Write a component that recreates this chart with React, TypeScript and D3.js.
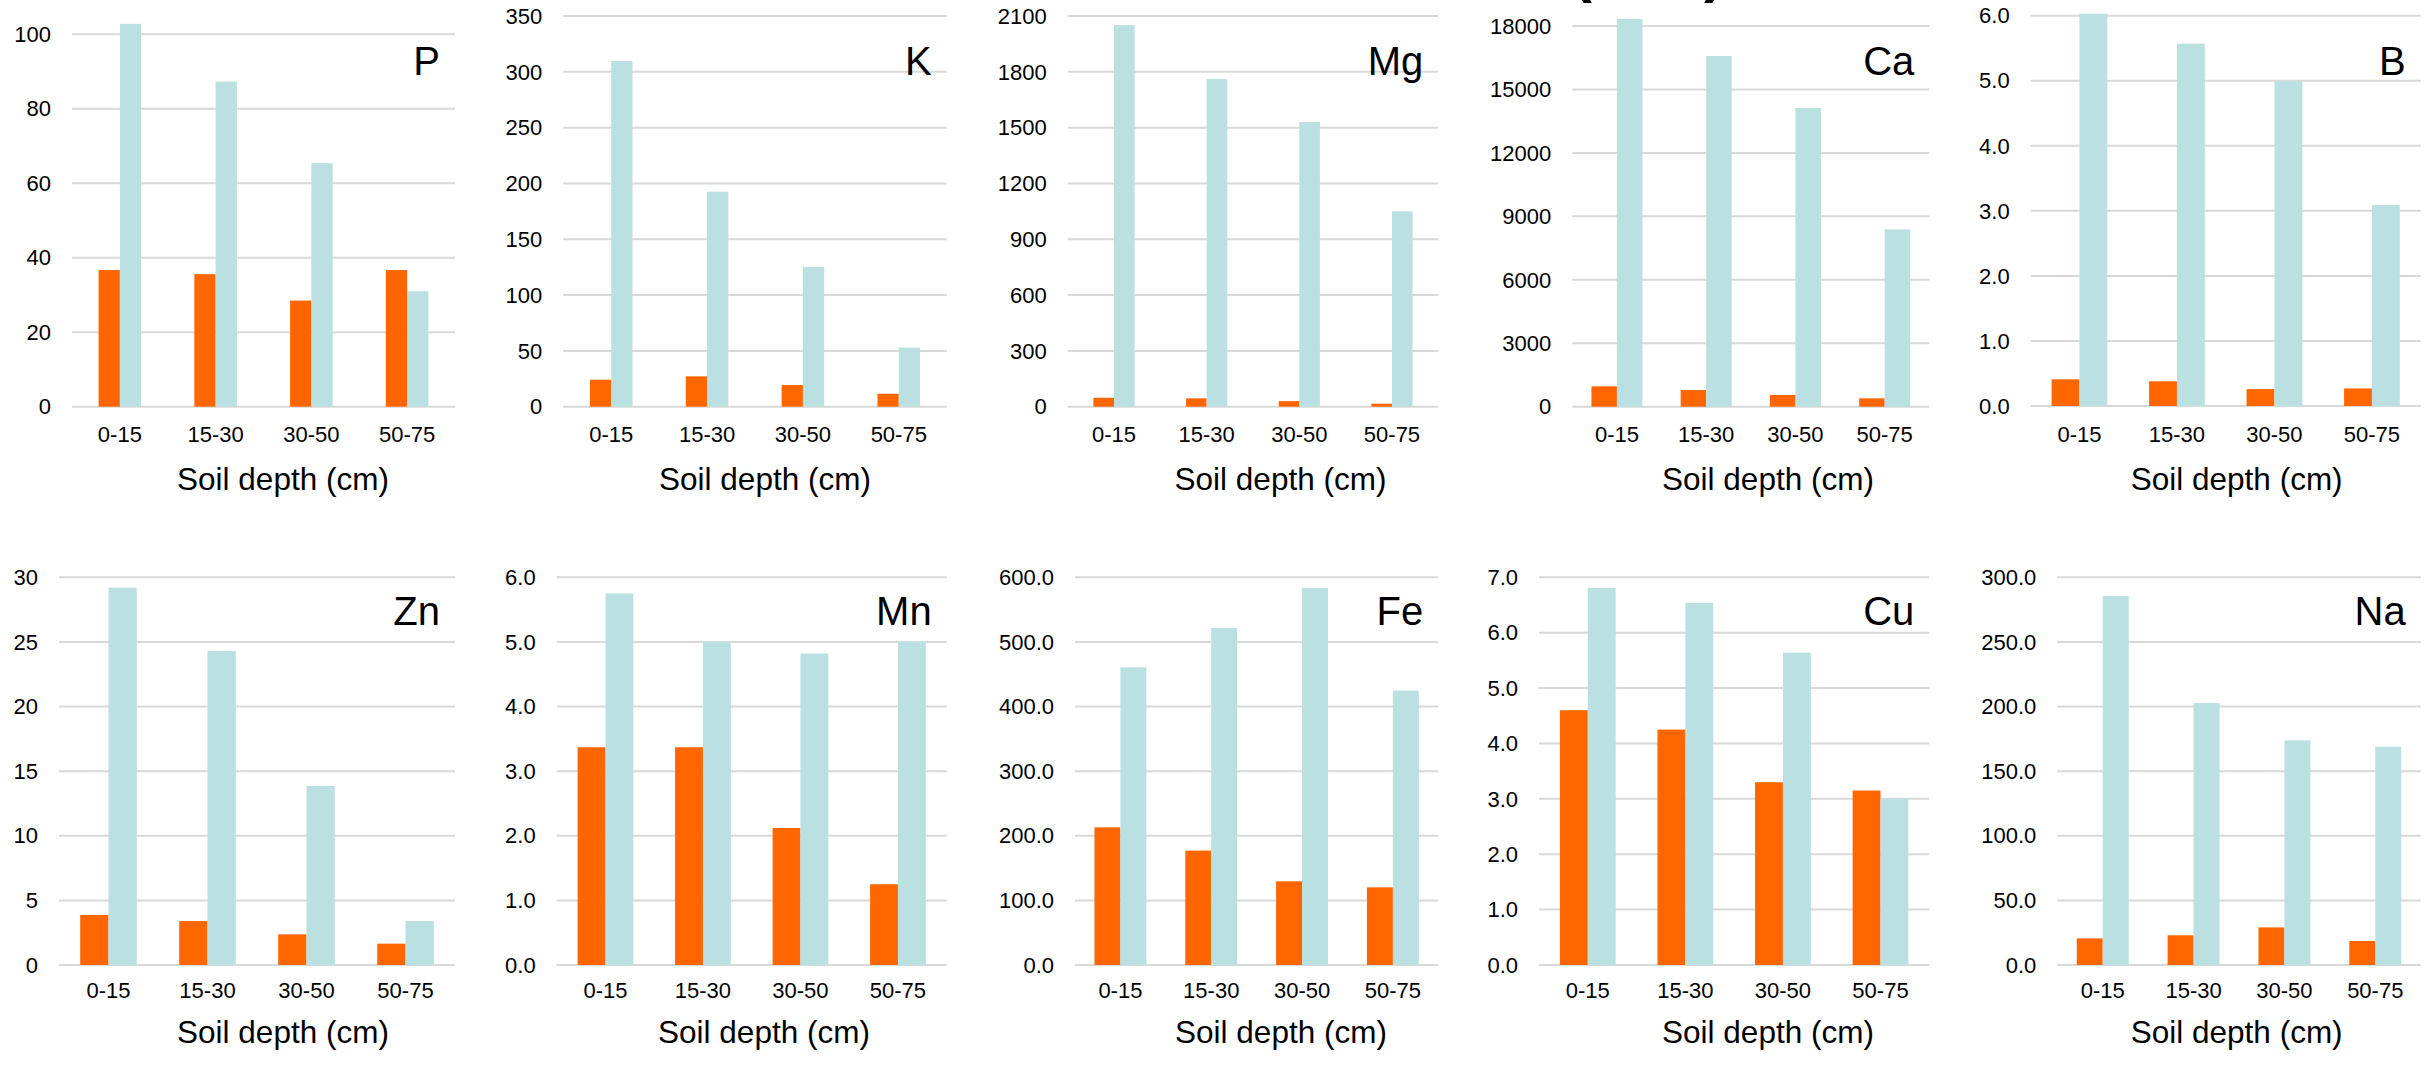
import React from "react";
import * as d3 from "d3";

// Soil depth classes shared by every panel
const depths = ["0-15", "15-30", "30-50", "50-75"];

// Orange series (A) and light-blue series (B), one pair per element
const pA = [36.7, 35.6, 28.5, 36.7];
const pB = [102.8, 87.3, 65.4, 31.0];
const kA = [24.2, 27.2, 19.4, 11.6];
const kB = [309.7, 192.6, 125.1, 52.9];
const mgA = [48, 45, 30, 16];
const mgB = [2051, 1761, 1530, 1050];
const caA = [962, 788, 552, 394];
const caB = [18330, 16580, 14122, 8384];
const bA = [0.41, 0.38, 0.26, 0.27];
const bB = [6.03, 5.57, 4.99, 3.09];
const znA = [3.87, 3.4, 2.37, 1.65];
const znB = [29.2, 24.3, 13.85, 3.4];
const mnA = [3.37, 3.37, 2.12, 1.25];
const mnB = [5.75, 5.0, 4.82, 5.0];
const feA = [213, 177, 129.5, 120.2];
const feB = [460.6, 521.5, 583.4, 424.5];
const cuA = [4.6, 4.25, 3.3, 3.15];
const cuB = [6.81, 6.54, 5.64, 3.0];
const naA = [20.6, 23, 29.1, 18.6];
const naB = [285.5, 202.7, 173.8, 168.9];

// Axis tick values per element
const pTicks = [0, 20, 40, 60, 80, 100];
const kTicks = [0, 50, 100, 150, 200, 250, 300, 350];
const mgTicks = [0, 300, 600, 900, 1200, 1500, 1800, 2100];
const caTicks = [0, 3000, 6000, 9000, 12000, 15000, 18000];
const bTicks = [0, 1, 2, 3, 4, 5, 6];
const znTicks = [0, 5, 10, 15, 20, 25, 30];
const mnTicks = [0, 1, 2, 3, 4, 5, 6];
const feTicks = [0, 100, 200, 300, 400, 500, 600];
const cuTicks = [0, 1, 2, 3, 4, 5, 6, 7];
const naTicks = [0, 50, 100, 150, 200, 250, 300];

const xTitle = "Soil depth (cm)";
const ORANGE = "#FF6600";
const BLUE = "#BAE0E2";
const GRID = "#D9D9D9";
const FONT = "'Liberation Sans', Arial, sans-serif";

type Panel = {
  name: string;
  a: number[];
  b: number[];
  ticks: number[];
  fmt: string;
  left: number;
  right: number;
  top: number;
  zero: number;
  barRatio: number;
  titleX: number;
  row: number;
};

const rowText = [
  { label: 75, cat: 442, title: 490 },
  { label: 625, cat: 998, title: 1043 },
];

const panels: Panel[] = [
  { name: "P", a: pA, b: pB, ticks: pTicks, fmt: "d", left: 72, right: 455, top: 34.3, zero: 406.7, barRatio: 1 / 4.5, titleX: 283, row: 0 },
  { name: "K", a: kA, b: kB, ticks: kTicks, fmt: "d", left: 563.3, right: 946.7, top: 16, zero: 406.7, barRatio: 1 / 4.5, titleX: 765, row: 0 },
  { name: "Mg", a: mgA, b: mgB, ticks: mgTicks, fmt: "d", left: 1067.7, right: 1438.3, top: 16, zero: 406.7, barRatio: 1 / 4.5, titleX: 1280.5, row: 0 },
  { name: "Ca", a: caA, b: caB, ticks: caTicks, fmt: "d", left: 1572.3, right: 1929.3, top: 26, zero: 406.7, barRatio: 1 / 3.5, titleX: 1768, row: 0 },
  { name: "B", a: bA, b: bB, ticks: bTicks, fmt: ".1f", left: 2030.7, right: 2420.7, top: 15.7, zero: 406, barRatio: 1 / 3.5, titleX: 2236.7, row: 0 },
  { name: "Zn", a: znA, b: znB, ticks: znTicks, fmt: "d", left: 59, right: 455, top: 577.3, zero: 965, barRatio: 1 / 3.5, titleX: 283, row: 1 },
  { name: "Mn", a: mnA, b: mnB, ticks: mnTicks, fmt: ".1f", left: 556.7, right: 946.7, top: 577.3, zero: 965, barRatio: 1 / 3.5, titleX: 764, row: 1 },
  { name: "Fe", a: feA, b: feB, ticks: feTicks, fmt: ".1f", left: 1075, right: 1438.3, top: 577.3, zero: 965, barRatio: 1 / 3.5, titleX: 1281, row: 1 },
  { name: "Cu", a: cuA, b: cuB, ticks: cuTicks, fmt: ".1f", left: 1539, right: 1929.3, top: 577.3, zero: 965, barRatio: 1 / 3.5, titleX: 1768, row: 1 },
  { name: "Na", a: naA, b: naB, ticks: naTicks, fmt: ".1f", left: 2057.3, right: 2420.7, top: 577.3, zero: 965, barRatio: 1 / 3.5, titleX: 2236.7, row: 1 },
];

function BarPanel({ p }: { p: Panel }) {
  const tmax = p.ticks[p.ticks.length - 1];
  const y = d3.scaleLinear().domain([0, tmax]).range([p.zero, p.top]);
  const x = d3.scaleBand().domain(depths).range([p.left, p.right]).padding(0);
  const barW = x.bandwidth() * p.barRatio;
  const fmt = d3.format(p.fmt);
  const rt = rowText[p.row];
  return (
    <g>
      {p.ticks.map((t) => (
        <g key={t}>
          <line x1={p.left} x2={p.right} y1={y(t)} y2={y(t)} stroke={GRID} strokeWidth={2} />
          <text x={p.left - 21} y={y(t)} dy="0.35em" textAnchor="end" fontSize={22} fill="#000" fontFamily={FONT}>
            {fmt(t)}
          </text>
        </g>
      ))}
      {depths.map((d, i) => {
        const c = (x(d) as number) + x.bandwidth() / 2;
        return (
          <g key={d}>
            <rect x={c - barW} y={y(p.a[i])} width={barW} height={p.zero - y(p.a[i])} fill={ORANGE} />
            <rect x={c} y={y(p.b[i])} width={barW} height={p.zero - y(p.b[i])} fill={BLUE} />
            <text x={c} y={rt.cat} textAnchor="middle" fontSize={22} fill="#000" fontFamily={FONT}>
              {d}
            </text>
          </g>
        );
      })}
      <text x={p.right - 15} y={rt.label} textAnchor="end" fontSize={40} fill="#000" fontFamily={FONT}>
        {p.name}
      </text>
      <text x={p.titleX} y={rt.title} textAnchor="middle" fontSize={31.5} fill="#000" fontFamily={FONT}>
        {xTitle}
      </text>
    </g>
  );
}

export default function App() {
  return (
    <svg
      width={2435}
      height={1074}
      viewBox="0 0 2435 1074"
      style={{ position: "absolute", left: 0, top: 0, background: "#fff" }}
    >
      <rect width={2435} height={1074} fill="#fff" />
      {/* edge of a heading that runs above the top of the figure */}
      <text x={1572} y={-9} fontSize={60} fontWeight="bold" fill="#000" fontFamily={FONT}>(</text>
      <text x={1704} y={-9} fontSize={60} fontWeight="bold" fill="#000" fontFamily={FONT}>)</text>
      {panels.map((p) => (
        <BarPanel key={p.name} p={p} />
      ))}
    </svg>
  );
}
